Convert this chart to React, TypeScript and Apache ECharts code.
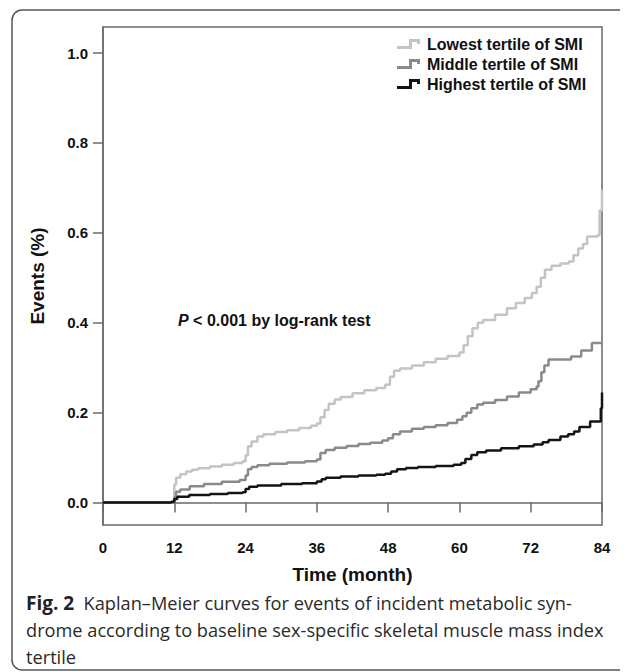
import React, { useEffect, useRef } from "react";
import * as echarts from "echarts";

const seriesNames = ["Lowest tertile of SMI", "Middle tertile of SMI", "Highest tertile of SMI"];
const seriesColors = ["#c4c4c4", "#8a8a8a", "#141414"];

const xTicks = [0, 12, 24, 36, 48, 60, 72, 84];
const yTicks = [0, 0.2, 0.4, 0.6, 0.8, 1.0];

const lowest: [number, number][] = [
  [0, 0], [11.5, 0.002], [12, 0.04], [12.3, 0.055], [13, 0.063], [14, 0.069], [15, 0.073], [16, 0.076],
  [18, 0.08], [20, 0.084], [22, 0.088], [23.5, 0.092], [24, 0.105], [24.4, 0.125], [25, 0.136], [26, 0.147],
  [27, 0.152], [29, 0.157], [31, 0.161], [33, 0.166], [35, 0.171], [36, 0.176], [36.6, 0.19], [37.3, 0.206],
  [38, 0.22], [39, 0.229], [40, 0.235], [42, 0.243], [44, 0.25], [46, 0.255], [47.5, 0.262], [48.3, 0.28],
  [49, 0.293], [50, 0.298], [52, 0.305], [54, 0.312], [56, 0.32], [58, 0.326], [60, 0.334], [60.7, 0.35],
  [61.4, 0.37], [62.2, 0.388], [63.1, 0.4], [64, 0.406], [66, 0.418], [68, 0.432], [69.5, 0.444], [71, 0.455],
  [72.2, 0.466], [73, 0.48], [73.7, 0.5], [74.4, 0.518], [75.5, 0.527], [77, 0.532], [78.4, 0.536], [79.2, 0.55],
  [80, 0.565], [80.8, 0.575], [81.5, 0.592], [83.3, 0.595], [83.6, 0.65], [84, 0.696],
];

const middle: [number, number][] = [
  [0, 0], [12, 0.012], [12.3, 0.024], [13, 0.029], [14.6, 0.036], [17, 0.041], [20, 0.046], [23, 0.05],
  [24, 0.06], [24.4, 0.074], [25, 0.079], [26, 0.083], [28, 0.086], [31, 0.089], [34, 0.092], [36, 0.096],
  [36.6, 0.11], [37.5, 0.117], [39, 0.122], [41, 0.126], [43, 0.13], [45, 0.133], [47, 0.138], [48, 0.143],
  [48.8, 0.152], [50, 0.158], [52, 0.164], [54, 0.168], [56, 0.172], [58, 0.177], [59.6, 0.184], [60.5, 0.192],
  [61.2, 0.2], [62, 0.21], [63, 0.218], [64, 0.222], [66, 0.228], [68, 0.236], [70, 0.245], [72, 0.252],
  [73, 0.258], [73.3, 0.27], [73.8, 0.29], [74.3, 0.305], [75, 0.318], [78.8, 0.325], [80.5, 0.338],
  [82.3, 0.355], [84, 0.355],
];

const highest: [number, number][] = [
  [0, 0], [11.5, 0.002], [12, 0.008], [12.5, 0.013], [14.5, 0.017], [18, 0.019], [21, 0.021], [23.5, 0.023],
  [24, 0.03], [24.6, 0.035], [26, 0.038], [30, 0.041], [33.5, 0.043], [36, 0.047], [36.8, 0.052], [37.5, 0.055],
  [40, 0.058], [43, 0.06], [46, 0.062], [47.5, 0.064], [48.5, 0.069], [49.5, 0.074], [51, 0.077], [53, 0.079],
  [56, 0.081], [59, 0.084], [60.3, 0.088], [61, 0.097], [62, 0.106], [63, 0.112], [64.5, 0.116], [67, 0.121],
  [70, 0.125], [72.5, 0.129], [74, 0.134], [75, 0.139], [77, 0.147], [78.3, 0.152], [79.3, 0.158], [80.2, 0.168],
  [82, 0.18], [83.6, 0.18], [83.8, 0.21], [84, 0.245],
];

const seriesData = [lowest, middle, highest];

const captionLines = [
  "Kaplan\u2013Meier curves for events of incident metabolic syn-",
  "drome according to baseline sex-specific skeletal muscle mass index",
  "tertile",
];

const AXIS_FONT = "'Liberation Sans', Arial, sans-serif";
const CAPTION_FONT = "'Open Sans', 'Noto Sans', sans-serif";
const stepIcon = "path://M0,7 L12,7 L12,0 L23,0 L23,5 L20,5 L20,3 L15,3 L15,10 L0,10 Z";

export default function App() {
  const ref = useRef<HTMLDivElement>(null);
  useEffect(() => {
    if (!ref.current) return;
    const chart = echarts.init(ref.current, null, { renderer: "svg" });
    const frameColor = "#555";
    chart.setOption({
      animation: false,
      backgroundColor: "#ffffff",
      grid: {
        left: 103,
        right: 25,
        top: 27,
        bottom: 147,
        show: true,
        borderColor: "#6a6a6a",
        borderWidth: 1.5,
        containLabel: false,
      },
      legend: {
        orient: "vertical",
        left: 392,
        top: 30,
        itemWidth: 23,
        itemHeight: 10,
        itemGap: 2,
        icon: stepIcon,
        itemStyle: { borderWidth: 0 },
        textStyle: {
          fontFamily: AXIS_FONT,
          fontWeight: "bold",
          fontSize: 16,
          color: "#111",
          lineHeight: 18,
          padding: [0, 0, 0, 2],
        },
        data: seriesNames,
      },
      xAxis: {
        type: "value",
        min: 0,
        max: 84,
        interval: 12,
        name: "Time (month)",
        nameLocation: "middle",
        nameGap: 40,
        nameTextStyle: { fontFamily: AXIS_FONT, fontWeight: "bold", fontSize: 19, color: "#111" },
        axisLine: { show: true, lineStyle: { color: "#6a6a6a", width: 1.5 } },
        axisTick: { show: true, length: 10, lineStyle: { color: "#6a6a6a", width: 1.5 } },
        axisLabel: {
          margin: 15,
          fontFamily: AXIS_FONT,
          fontWeight: "bold",
          fontSize: 15,
          color: "#111",
          customValues: xTicks,
        },
        splitLine: { show: false },
      },
      yAxis: {
        type: "value",
        min: -0.05,
        max: 1.058,
        name: "Events (%)",
        nameLocation: "middle",
        nameGap: 56,
        nameTextStyle: { fontFamily: AXIS_FONT, fontWeight: "bold", fontSize: 19, color: "#111" },
        axisLine: { show: true, lineStyle: { color: "#6a6a6a", width: 1.5 } },
        axisTick: { show: true, length: 10, lineStyle: { color: "#6a6a6a", width: 1.5 }, customValues: yTicks },
        axisLabel: {
          margin: 15,
          fontFamily: AXIS_FONT,
          fontWeight: "bold",
          fontSize: 15,
          color: "#111",
          customValues: yTicks,
          formatter: (v: number) => v.toFixed(1),
        },
        splitLine: { show: false },
      },
      series: seriesData.map((d, i) => ({
        name: seriesNames[i],
        type: "line",
        step: "end",
        data: d,
        showSymbol: false,
        symbol: "circle",
        lineStyle: { color: seriesColors[i], width: 2.5 },
        itemStyle: { color: seriesColors[i], borderWidth: 0 },
        z: 3 + i,
      })),
      graphic: [
        // outer frame
        { type: "line", shape: { x1: 22, y1: 10, x2: 620, y2: 10 }, style: { stroke: frameColor, lineWidth: 1.5 } },
        { type: "line", shape: { x1: 12, y1: 20, x2: 12, y2: 660 }, style: { stroke: frameColor, lineWidth: 1.5 } },
        { type: "arc", shape: { cx: 22, cy: 20, r: 10, startAngle: Math.PI, endAngle: Math.PI * 1.5 }, style: { stroke: frameColor, lineWidth: 1.5, fill: "none" } },
        { type: "arc", shape: { cx: 22, cy: 660, r: 10, startAngle: Math.PI * 0.5, endAngle: Math.PI }, style: { stroke: frameColor, lineWidth: 1.5, fill: "none" } },
        { type: "line", shape: { x1: 22, y1: 670, x2: 620, y2: 670 }, style: { stroke: frameColor, lineWidth: 1.5 } },
        // annotation
        {
          type: "text",
          x: 178,
          y: 320,
          style: {
            text: "{i|P} < 0.001 by log-rank test",
            fontFamily: AXIS_FONT,
            fontWeight: "bold",
            fontSize: 16,
            fill: "#111",
            verticalAlign: "middle",
            rich: {
              i: { fontFamily: AXIS_FONT, fontWeight: "bold", fontStyle: "italic", fontSize: 16, fill: "#111" },
            },
          },
        },
        // caption
        {
          type: "text",
          x: 26,
          y: 603,
          style: {
            text: "{b|Fig. 2}  " + captionLines[0],
            fontFamily: CAPTION_FONT,
            fontSize: 18.2,
            fill: "#2a2a2a",
            verticalAlign: "middle",
            rich: {
              b: { fontFamily: CAPTION_FONT, fontWeight: "bold", fontSize: 19, fill: "#222" },
            },
          },
        },
        {
          type: "text",
          x: 26,
          y: 630,
          style: { text: captionLines[1], fontFamily: CAPTION_FONT, fontSize: 18.2, fill: "#2a2a2a", verticalAlign: "middle" },
        },
        {
          type: "text",
          x: 26,
          y: 657,
          style: { text: captionLines[2], fontFamily: CAPTION_FONT, fontSize: 18.2, fill: "#2a2a2a", verticalAlign: "middle" },
        },
      ],
    });
    return () => chart.dispose();
  }, []);
  return <div ref={ref} style={{ width: 627, height: 672, position: "absolute", left: 0, top: 0 }} />;
}
